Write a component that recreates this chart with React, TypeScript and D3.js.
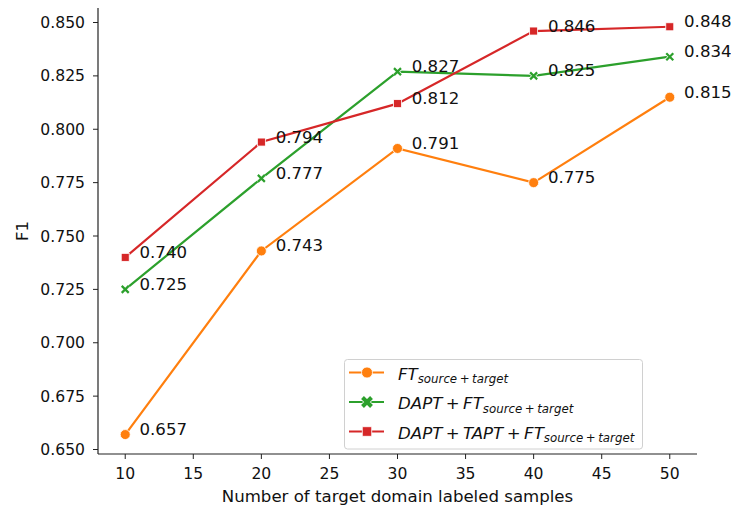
import React from "react";
import * as d3 from "d3";

const samples = [10, 20, 30, 40, 50];
const ftValues = [0.657, 0.743, 0.791, 0.775, 0.815];
const daptValues = [0.725, 0.777, 0.827, 0.825, 0.834];
const daptTaptValues = [0.740, 0.794, 0.812, 0.846, 0.848];
const xTicks = [10, 15, 20, 25, 30, 35, 40, 45, 50];
const yTicks = [0.65, 0.675, 0.7, 0.725, 0.75, 0.775, 0.8, 0.825, 0.85];
const legendMain = ["FT", "DAPT + FT", "DAPT + TAPT + FT"];
const legendSub = "source + target";

const W = 731, H = 506;
const left = 98, right = 697, top = 8, bottom = 454;
const FONT = "DejaVu Sans, sans-serif";

export default function App() {
  const x = d3.scaleLinear().domain([8, 52]).range([left, right]);
  const y = d3.scaleLinear().domain([0.65, 0.85]).range([449.5, 22.5]);
  const line = d3.line<number>().x((_, i) => x(samples[i])).y((d) => y(d));

  const series = [
    { name: "ft", values: ftValues, color: "#ff7f0e", marker: "circle" },
    { name: "dapt", values: daptValues, color: "#2ca02c", marker: "x" },
    { name: "dapttapt", values: daptTaptValues, color: "#d62728", marker: "square" },
  ];

  const marker = (kind: string, cx: number, cy: number, color: string, key: any, big = false) => {
    if (kind === "circle") {
      const r = big ? 5.5 : 5;
      return <circle key={key} cx={cx} cy={cy} r={r} fill={color} stroke="white" strokeWidth={0.8} />;
    }
    if (kind === "square") {
      const s = big ? 9.5 : 8;
      return <rect key={key} x={cx - s / 2} y={cy - s / 2} width={s} height={s} fill={color} stroke="white" strokeWidth={0.8} />;
    }
    const s = big ? 4.5 : 3.5;
    const sw = big ? 4 : 2.2;
    const d = `M${cx - s},${cy - s}L${cx + s},${cy + s}M${cx - s},${cy + s}L${cx + s},${cy - s}`;
    return (
      <g key={key}>
        <path d={d} stroke="white" strokeWidth={sw + 1.4} />
        <path d={d} stroke={color} strokeWidth={sw} />
      </g>
    );
  };

  return (
    <svg width={W} height={H} style={{ position: "absolute", left: 0, top: 0 }} fontFamily={FONT}>
      <rect width={W} height={H} fill="white" />
      {series.map((s) => (
        <g key={s.name}>
          <path d={line(s.values) || ""} fill="none" stroke={s.color} strokeWidth={2.2} />
          {s.values.map((v, i) => marker(s.marker, x(samples[i]), y(v), s.color, i))}
          {s.values.map((v, i) => (
            <text key={"t" + i} x={x(samples[i] + 1.05)} y={y(v) + 0.5} fontSize={16.6} fill="#111">
              {v.toFixed(3)}
            </text>
          ))}
        </g>
      ))}
      {/* axes */}
      <line x1={left} x2={left} y1={top} y2={bottom} stroke="#222" strokeWidth={1.2} />
      <line x1={left} x2={right} y1={bottom} y2={bottom} stroke="#222" strokeWidth={1.2} />
      {yTicks.map((t) => (
        <g key={t}>
          <line x1={left - 5} x2={left} y1={y(t)} y2={y(t)} stroke="#222" strokeWidth={1} />
          <text x={left - 13} y={y(t)} dy="0.36em" textAnchor="end" fontSize={15.6} fill="#111">
            {t.toFixed(3)}
          </text>
        </g>
      ))}
      {xTicks.map((t) => (
        <g key={t}>
          <line x1={x(t)} x2={x(t)} y1={bottom} y2={bottom + 5} stroke="#222" strokeWidth={1} />
          <text x={x(t)} y={bottom + 25} textAnchor="middle" fontSize={15.6} fill="#111">
            {t}
          </text>
        </g>
      ))}
      <text x={(left + right) / 2} y={502} textAnchor="middle" fontSize={16.6} fill="#111">
        Number of target domain labeled samples
      </text>
      <text transform={`translate(28,${(top + bottom) / 2}) rotate(-90)`} textAnchor="middle" fontSize={16.6} fill="#111">
        F1
      </text>
      {/* legend */}
      <rect x={344.5} y={359.5} width={298} height={89.5} rx={3} fill="white" fillOpacity={0.85} stroke="#d0d0d0" strokeWidth={1} />
      {series.map((s, i) => {
        const cy = 372.5 + i * 29.5;
        return (
          <g key={i}>
            <line x1={349} x2={384} y1={cy} y2={cy} stroke={s.color} strokeWidth={2.2} />
            {marker(s.marker, 367, cy, s.color, "m", true)}
            <text x={398} y={cy + 7} fontSize={16.6} fontStyle="italic" fill="#111" style={{ wordSpacing: "-1.8px" }}>
              <tspan>{legendMain[i]}</tspan>
              <tspan fontSize={11.8} dy={3.5} style={{ wordSpacing: "-1.2px" }}>{legendSub}</tspan>
            </text>
          </g>
        );
      })}
    </svg>
  );
}
